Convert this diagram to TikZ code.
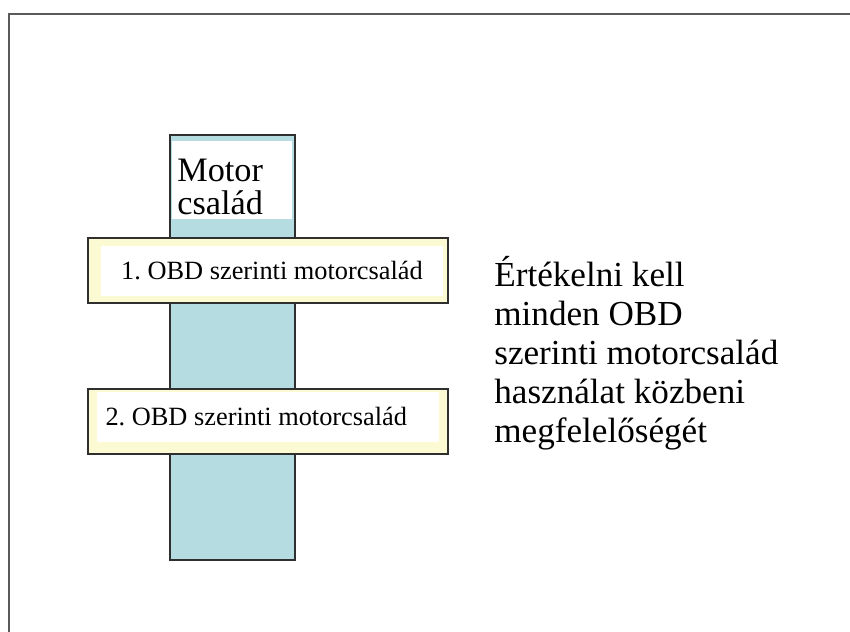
\documentclass[tikz,border=0pt]{standalone}
\usepackage{fontspec}
\setmainfont{Liberation Serif}
\frenchspacing
\usetikzlibrary{positioning}
\definecolor{barblue}{HTML}{B5DDE1}
\definecolor{paleyellow}{HTML}{FCFAD2}
\definecolor{edgegrey}{HTML}{2F2F2F}
\definecolor{framegrey}{HTML}{5A5A5A}
\tikzset{
  bar/.style={rectangle, draw=edgegrey, line width=1.1pt, fill=barblue,
    minimum width=2.5cm, minimum height=8.5cm, inner sep=0pt},
  obdbox/.style={rectangle, draw=edgegrey, line width=1.1pt, fill=paleyellow,
    minimum width=7.2cm, minimum height=1.3cm, inner sep=0pt},
  obdtext/.style={rectangle, fill=white, minimum width=6.85cm, minimum height=1.0cm,
    inner sep=0pt, font=\fontsize{15}{18}\selectfont},
  bigtext/.style={align=left, font=\fontsize{20}{22.2}\selectfont, inner sep=0pt},
}
\begin{document}
\begin{tikzpicture}[x=0.02cm, y=-0.02cm]
\useasboundingbox (0,0) rectangle (850,632);
% frame
\draw[framegrey, line width=1.6pt] (9,640) -- (9,14) -- (860,14);

% engine family bar
\node[bar] (family) at (232.5,347.5) {};
\node[rectangle, fill=white, minimum width=2.4cm, minimum height=1.56cm, inner sep=0pt,
  anchor=north] (famhead) at (232,141) {};
\node[bigtext, font=\fontsize{19.5}{18.6}\selectfont, anchor=north west] (famlabel)
  at (177,159) {Motor\\család};

% OBD engine families
\node[obdbox] (obd1) at (268,270.5) {};
\node[obdtext] (obd1text) at (272,271) {1. OBD szerinti motorcsalád};
\node[obdbox] (obd2) at (268,421.5) {};
\node[obdtext, text width=6.5cm, align=flush left] (obd2text) at (268,417) {2. OBD szerinti motorcsalád};

% note
\node[bigtext, anchor=north west] (note) at (494,256)
  {Értékelni kell\\minden OBD\\szerinti motorcsalád\\használat közbeni\\megfelelőségét};
\end{tikzpicture}
\end{document}
